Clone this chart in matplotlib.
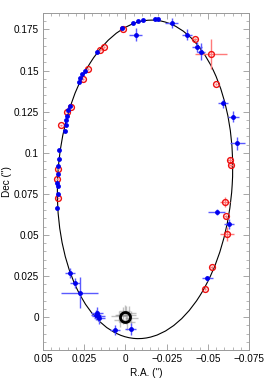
import numpy as np
import matplotlib
matplotlib.use("Agg")
import matplotlib.pyplot as plt
from matplotlib.patches import Ellipse

plt.rcParams['font.family'] = ['Liberation Sans', 'DejaVu Sans']

# Blue filled points: RA, Dec, errRA, errDec
blue_ra = [0.0022, -0.0048, -0.0078, -0.0109, -0.0180, -0.0200, -0.0281, -0.0063,
           -0.0376, -0.0437, -0.0459, -0.0593, -0.0655, -0.0679, -0.0554, -0.0627,
           -0.0497, 0.0174, 0.0265, 0.0245, 0.0282, 0.0276, 0.0336, 0.0347, 0.0353,
           0.0361, 0.0361, 0.0369, 0.0401, 0.0405, 0.0409, 0.0409, 0.0413, 0.0409,
           0.0411, 0.0413, 0.0336, 0.0306, 0.0276, 0.0174, 0.0165, 0.0158, 0.0178,
           0.0063, -0.0032]
blue_dec = [0.1759, 0.1790, 0.1800, 0.1808, 0.1813, 0.1811, 0.1787, 0.1718,
            0.1718, 0.1645, 0.1615, 0.1300, 0.1220, 0.1058, 0.0637, 0.0569,
            0.0235, 0.1615, 0.1480, 0.1496, 0.1431, 0.1455, 0.1285, 0.1257, 0.1226,
            0.1200, 0.1170, 0.1131, 0.1018, 0.0964, 0.0917, 0.0872, 0.0815, 0.0800,
            0.0751, 0.0664, 0.0269, 0.0205, 0.0148, 0.0026, 0.0006, -0.0008, 0.0012,
            -0.0079, -0.0071]
blue_era = [0.0005, 0.0005, 0.0005, 0.0005, 0.0005, 0.0005, 0.0040, 0.0040,
            0.0030, 0.0030, 0.0025, 0.0030, 0.0035, 0.0045, 0.0050, 0.0030,
            0.0035, 0.0005, 0.0005, 0.0005, 0.0005, 0.0005, 0.0005, 0.0005, 0.0005,
            0.0005, 0.0005, 0.0005, 0.0005, 0.0005, 0.0005, 0.0005, 0.0005, 0.0005,
            0.0005, 0.0005, 0.0030, 0.0030, 0.0112, 0.0035, 0.0040, 0.0035, 0.0030,
            0.0030, 0.0035]
blue_edec = [0.0005, 0.0005, 0.0005, 0.0005, 0.0005, 0.0005, 0.0030, 0.0040,
             0.0035, 0.0030, 0.0050, 0.0025, 0.0035, 0.0040, 0.0018, 0.0030,
             0.0015, 0.0005, 0.0005, 0.0005, 0.0005, 0.0005, 0.0005, 0.0005, 0.0005,
             0.0005, 0.0005, 0.0005, 0.0005, 0.0005, 0.0005, 0.0005, 0.0005, 0.0005,
             0.0005, 0.0005, 0.0030, 0.0030, 0.0095, 0.0035, 0.0030, 0.0035, 0.0030,
             0.0030, 0.0035]

# Red open circles
red_ra = [0.0016, 0.0154, 0.0130, 0.0257, 0.0227, 0.0330, 0.0356, 0.0389, 0.0407,
          0.0415, 0.0407, -0.0423, -0.0518, -0.0550, -0.0635, -0.0641, -0.0607,
          -0.0609, -0.0615, -0.0524, -0.0483]
red_dec = [0.1750, 0.1625, 0.1644, 0.1447, 0.1510, 0.1281, 0.1247, 0.1166, 0.0903,
           0.0840, 0.0724, 0.1690, 0.1600, 0.1417, 0.0957, 0.0923, 0.0700,
           0.0613, 0.0504, 0.0302, 0.0174]
red_era = [0.0005, 0.0005, 0.0005, 0.0005, 0.0005, 0.0005, 0.0005, 0.0005, 0.0005,
           0.0005, 0.0005, 0.0010, 0.0096, 0.0008, 0.0018, 0.0010, 0.0030,
           0.0008, 0.0042, 0.0008, 0.0008]
red_edec = [0.0005, 0.0005, 0.0005, 0.0005, 0.0005, 0.0005, 0.0005, 0.0005, 0.0005,
            0.0005, 0.0005, 0.0010, 0.0090, 0.0008, 0.0018, 0.0010, 0.0030,
            0.0008, 0.0042, 0.0008, 0.0008]

# Grey points near the primary
grey_ra = [0.0015, -0.0020, 0.0030, -0.0010, 0.0005, -0.0035, 0.0040, -0.0005]
grey_dec = [0.0010, 0.0025, -0.0015, -0.0030, 0.0040, -0.0005, 0.0005, 0.0015]
grey_era = [0.0050, 0.0045, 0.0040, 0.0050, 0.0035, 0.0040, 0.0045, 0.0060]
grey_edec = [0.0050, 0.0040, 0.0045, 0.0050, 0.0035, 0.0040, 0.0035, 0.0055]

# Orbit ellipse parameters (data units)
orb_center = (-0.0119, 0.0838)
orb_a = 0.097
orb_b = 0.053
orb_angle = 93.4

fig = plt.figure(figsize=(2.66, 3.78), dpi=100)
ax = fig.add_axes([0.1617, 0.0741, 0.7744, 0.8915])

ax.errorbar(grey_ra, grey_dec, xerr=grey_era, yerr=grey_edec, fmt='none',
            ecolor='#909090', elinewidth=1.0, alpha=0.55, zorder=2)

ell = Ellipse(orb_center, width=2 * orb_a, height=2 * orb_b, angle=orb_angle,
              fill=False, edgecolor='black', linewidth=0.8, zorder=3)
ax.add_patch(ell)

ax.errorbar(red_ra, red_dec, xerr=red_era, yerr=red_edec, fmt='none',
            ecolor='#ff7a7a', elinewidth=1.0, zorder=4)
ax.plot(red_ra, red_dec, 'o', mfc='none', mec='#ee1111', ms=4.2, mew=1.0, zorder=5)

ax.errorbar(blue_ra, blue_dec, xerr=blue_era, yerr=blue_edec, fmt='none',
            ecolor='#5a5aff', elinewidth=1.0, zorder=6)
ax.plot(blue_ra, blue_dec, 'o', color='#0000ee', ms=3.5, mew=0, zorder=7)

ax.plot([0], [0], 'o', mfc='none', mec='black', ms=7.2, mew=2.0, zorder=8)

ax.set_xlim(0.05, -0.075)
ax.set_ylim(-0.02, 0.185)
ax.set_xticks([0.05, 0.025, 0, -0.025, -0.05, -0.075])
ax.set_xticklabels(['0.05', '0.025', '0', '\u22120.025', '\u22120.05', '\u22120.075'])
ax.set_yticks([0, 0.025, 0.05, 0.075, 0.1, 0.125, 0.15, 0.175])
ax.set_yticklabels(['0', '0.025', '0.05', '0.075', '0.1', '0.125', '0.15', '0.175'])
ax.set_xticks(np.arange(-0.075, 0.0501, 0.005), minor=True)
ax.set_yticks(np.arange(-0.02, 0.1851, 0.005), minor=True)

ax.tick_params(which='both', direction='in', top=True, right=True, color='#999999',
               labelsize=7.2, pad=3)
ax.tick_params(which='major', length=4, width=0.6)
ax.tick_params(which='minor', length=2, width=0.5)
for sp in ax.spines.values():
    sp.set_color('#999999')
    sp.set_linewidth(0.7)

ax.set_xlabel('R.A. (")', fontsize=7.2, labelpad=3)
ax.set_ylabel('Dec (")', fontsize=7.2, labelpad=1.5)

fig.savefig('out.png', dpi=100)
